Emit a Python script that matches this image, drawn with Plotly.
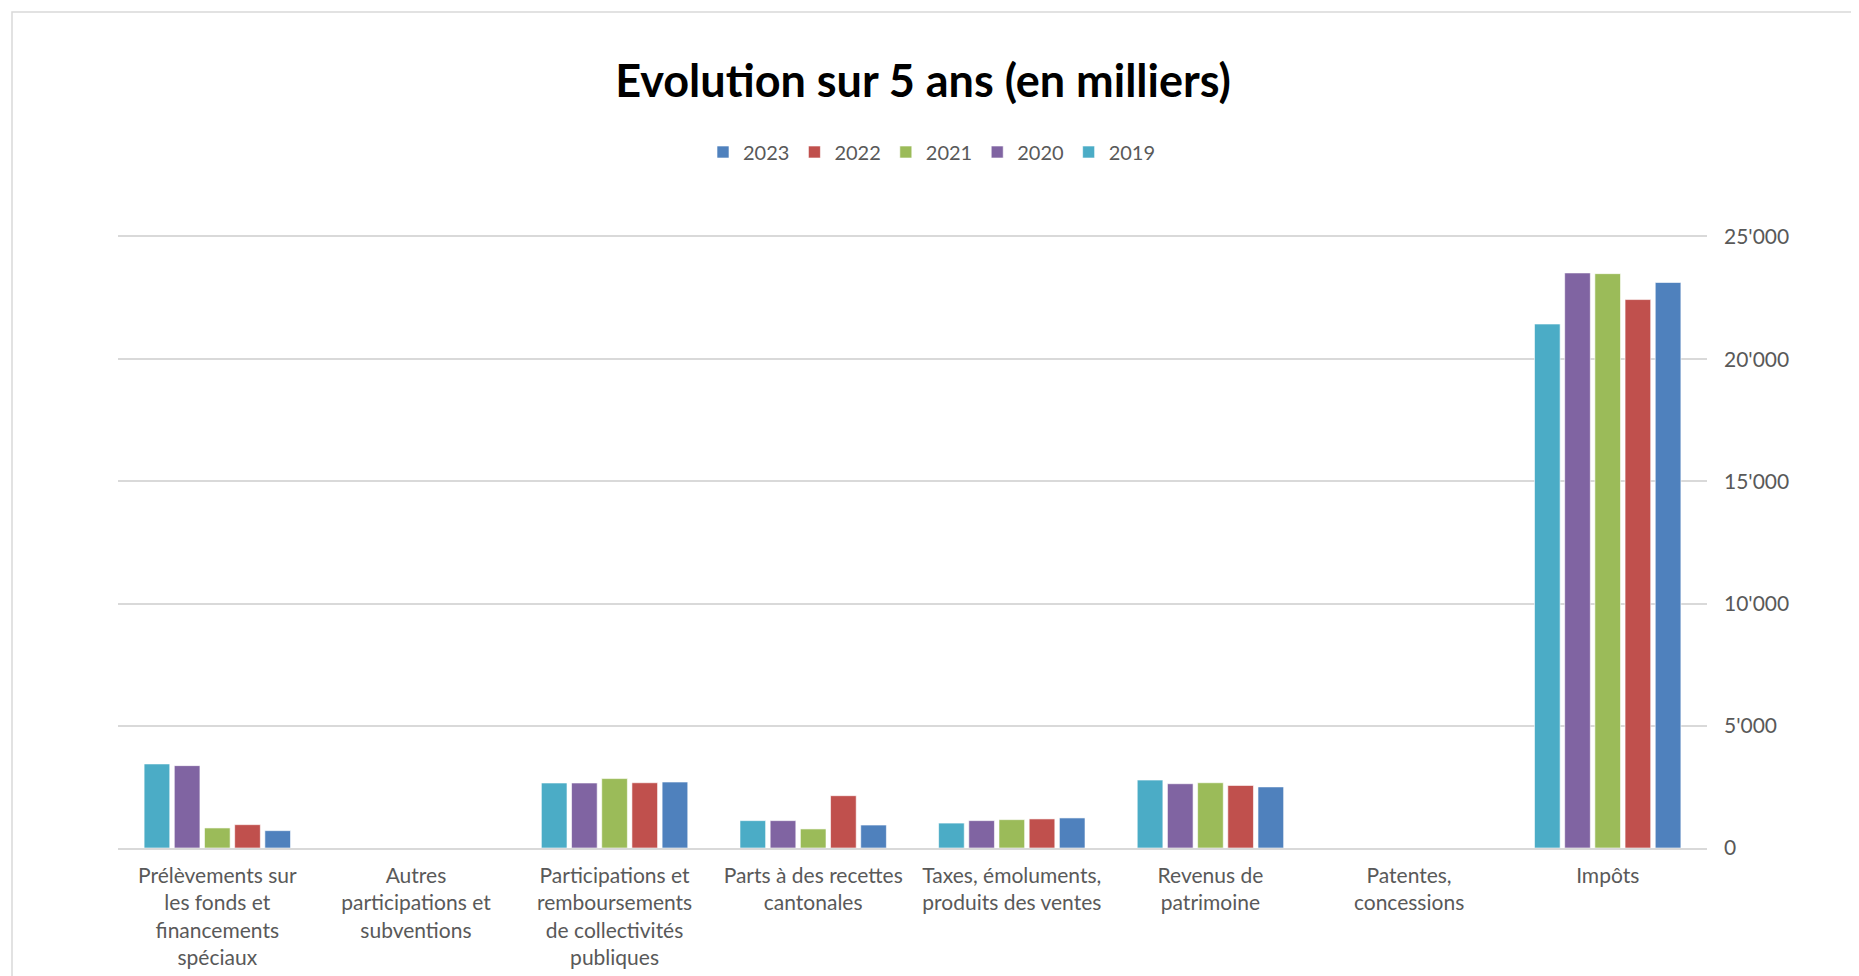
import plotly.graph_objects as go

categories = [
    "Prélèvements sur<br>les fonds et<br>financements<br>spéciaux",
    "Autres<br>participations et<br>subventions",
    "Participations et<br>remboursements<br>de collectivités<br>publiques",
    "Parts à des recettes<br>cantonales",
    "Taxes, émoluments,<br>produits des ventes",
    "Revenus de<br>patrimoine",
    "Patentes,<br>concessions",
    "Impôts",
]

v2019 = [3440, 0, 2660, 1120, 1020, 2780, 0, 21440]
v2020 = [3370, 0, 2660, 1120, 1120, 2630, 0, 23530]
v2021 = [820, 0, 2840, 780, 1160, 2670, 0, 23500]
v2022 = [955, 0, 2670, 2140, 1190, 2560, 0, 22440]
v2023 = [710, 0, 2700, 940, 1230, 2500, 0, 23140]

years = ["2019", "2020", "2021", "2022", "2023"]
series = [v2019, v2020, v2021, v2022, v2023]
colors = ["#4BACC6", "#8064A2", "#9BBB59", "#C0504D", "#4F81BD"]

# la page html ajoute une marge de 8px autour du graphique
W, H = 1851, 968
L, R, T, B = 110, 152, 229, 128
pw, ph = W - L - R, H - T - B

fig = go.Figure()

for year, vals, col in zip(years, series, colors):
    fig.add_trace(go.Bar(
        x=categories,
        y=vals,
        name=year,
        marker=dict(color=col, line=dict(color="rgba(255,255,255,0.6)", width=1)),
    ))

# cadre du graphique
fig.add_shape(
    type="rect", xref="paper", yref="paper",
    x0=(4 - L) / pw, x1=(1849 - L) / pw,
    y0=-0.6, y1=(H - B - 4) / ph,
    line=dict(color="#d9d9d9", width=1.5),
    fillcolor="rgba(0,0,0,0)", layer="below",
)

fig.update_layout(
    width=W,
    height=H,
    template="none",
    paper_bgcolor="white",
    plot_bgcolor="white",
    font=dict(family="Lato", color="#595959", size=20),
    separators=".'",
    margin=dict(l=L, r=R, t=T, b=B, autoexpand=False),
    title=dict(
        text="<b>Evolution sur 5 ans (en milliers)</b>",
        x=915 / W, xanchor="center",
        y=1 - 73 / H, yanchor="middle", yref="container",
        font=dict(family="Lato", size=45, color="black"),
    ),
    legend=dict(
        orientation="h",
        traceorder="reversed",
        x=(924 - L) / pw, xanchor="center",
        y=(H - B - 144) / ph, yanchor="middle",
        font=dict(size=20, color="#595959"),
        itemwidth=30,
    ),
    bargap=0.24,
    bargroupgap=0.15,
    showlegend=True,
)

fig.update_xaxes(
    showgrid=False,
    showline=True,
    mirror=True,
    linecolor="#d9d9d9",
    linewidth=1.5,
    ticks="",
    ticklabelstandoff=8,
    automargin=False,
    tickfont=dict(size=21, color="#595959"),
)

fig.update_yaxes(
    side="right",
    range=[0, 25000],
    tickvals=[0, 5000, 10000, 15000, 20000, 25000],
    tickformat=",",
    showgrid=True,
    gridcolor="#d9d9d9",
    gridwidth=1.5,
    zeroline=False,
    showline=False,
    ticks="",
    ticklabelstandoff=16,
    automargin=False,
    tickfont=dict(size=21, color="#595959"),
)

fig.write_html("out.html")
